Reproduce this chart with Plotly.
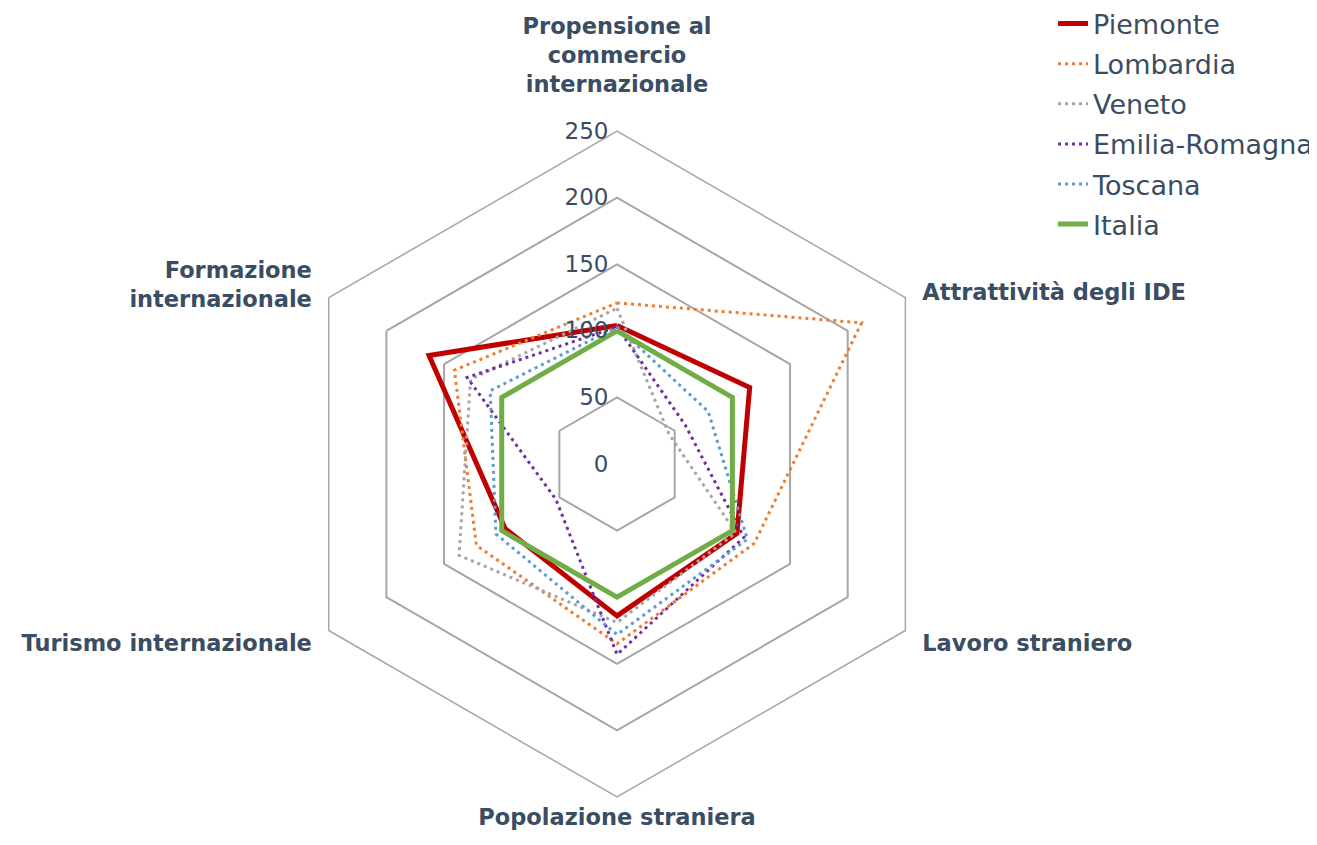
import plotly.graph_objects as go

PAD = "\u00a0\u2009"
categories = [
    "Propensione al<br>commercio<br>internazionale<br> ",
    PAD + "Attrattività degli IDE",
    PAD + "Lavoro straniero",
    "Popolazione straniera",
    "Turismo internazionale" + PAD,
    "Formazione" + PAD + "<br>internazionale" + PAD,
]

piemonte = [104, 115, 104, 114, 97, 163]
lombardia = [121, 212, 119, 135, 122, 141]
veneto = [117, 45, 103, 119, 137, 127]
emilia_romagna = [103, 59, 110, 143, 53, 130]
toscana = [103, 79, 113, 128, 105, 110]
italia = [100, 100, 100, 100, 100, 100]

radial_ticks = [0, 50, 100, 150, 200, 250]
radial_ticktext = [str(v) + "\u2009" for v in radial_ticks]

series = [
    ("Piemonte", piemonte, "#C00000", 5, "solid"),
    ("Lombardia", lombardia, "#ED7D31", 3, "3px,4px"),
    ("Veneto", veneto, "#A5A5A5", 3, "3px,4px"),
    ("Emilia-Romagna", emilia_romagna, "#7030A0", 3, "3px,4px"),
    ("Toscana", toscana, "#5B9BD5", 3, "3px,4px"),
    ("Italia", italia, "#70AD47", 5, "solid"),
]

TEXT = "#3A4D63"

fig = go.Figure()
for name, vals, color, width, dash in series:
    fig.add_trace(go.Scatterpolar(
        r=vals + vals[:1],
        theta=categories + categories[:1],
        mode="lines",
        name=name,
        legendgroup=name,
        line=dict(color=color, width=width, dash=dash),
    ))

fig.update_layout(
    width=1317,
    height=845,
    margin=dict(l=0, r=0, t=0, b=0, autoexpand=False),
    paper_bgcolor="white",
    plot_bgcolor="white",
    font=dict(family="DejaVu Sans", color=TEXT, size=22),
    legend=dict(
        x=0.7935, y=1.01, xanchor="left", yanchor="top",
        font=dict(family="DejaVu Sans", size=27, color=TEXT),
        tracegroupgap=2, itemwidth=30,
        bgcolor="rgba(0,0,0,0)",
    ),
    polar=dict(
        domain=dict(x=[0.2096, 0.7153], y=[0.0663, 0.8543]),
        gridshape="linear",
        bgcolor="white",
        radialaxis=dict(
            range=[0, 250],
            tickvals=radial_ticks,
            ticktext=radial_ticktext,
            angle=90,
            tickangle=90,
            side="counterclockwise",
            showline=False,
            ticks="",
            gridcolor="#A6A6A6",
            gridwidth=1.5,
            tickfont=dict(family="DejaVu Sans", size=23, color=TEXT),
        ),
        angularaxis=dict(
            direction="clockwise",
            rotation=90,
            showgrid=False,
            linecolor="#A6A6A6",
            linewidth=1.5,
            ticks="",
            tickfont=dict(family="DejaVu Sans", size=22.5, color=TEXT, weight="bold"),
        ),
    ),
)

fig.write_html("out.html")
